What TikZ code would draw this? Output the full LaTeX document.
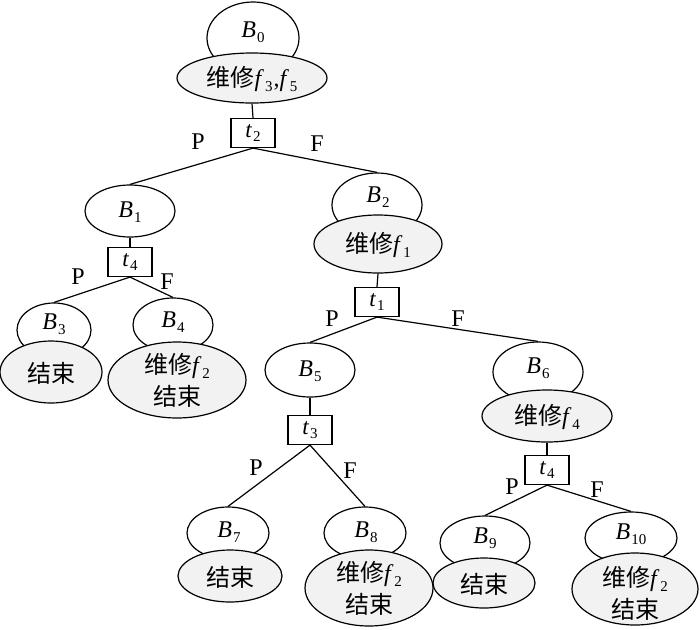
\documentclass[tikz,border=0pt]{standalone}
\usepackage{fontspec}
\setmainfont{Liberation Serif}
\newfontfamily\cjk{Noto Sans CJK SC}
\usetikzlibrary{shapes.geometric}
\newcommand\sbs[2]{\textit{#1}\kern1pt\raisebox{-0.45ex}{\fontsize{15}{15}\selectfont #2}}
\newcommand\wx{{\cjk 维修}}
\newcommand\js{{\cjk 结束}}
\begin{document}
\begin{tikzpicture}[x=1pt,y=-1pt,
 wn/.style={ellipse,draw,fill=white,line width=1.2pt,inner sep=0pt},
 gn/.style={ellipse,draw,fill=gray!10,line width=1.2pt,inner sep=0pt},
 tbox/.style={rectangle,draw,fill=white,line width=1.2pt,minimum width=44pt,minimum height=29pt,inner sep=0pt,font=\fontsize{23}{24}\selectfont},
 lab/.style={inner sep=0pt,font=\fontsize{24}{26}\selectfont},
 two/.style={inner sep=0pt,align=center,font=\fontsize{24}{32}\selectfont},
 edge/.style={line width=1.2pt}]
\useasboundingbox (0,0) rectangle (700,629);
% B0
\node[wn,minimum width=92pt,minimum height=72pt] (W0) at (253,38) {};
\node[gn,minimum width=150pt,minimum height=50pt] (G0) at (252,78) {};
\node[lab] (L0) at (253,32) {\sbs{B}{0}};
\node[lab] (M0) at (252,79) {\wx\sbs{f}{3}\kern1pt,\sbs{f}{5}};
\node[tbox] (T2) at (253,133) {\sbs{t}{2}};
% B1
\node[wn,minimum width=90pt,minimum height=52pt] (W1) at (130,211) {};
\node[lab] (L1) at (130,212) {\sbs{B}{1}};
\node[tbox] (T4a) at (130,262) {\sbs{t}{4}};
% B2
\node[wn,minimum width=90pt,minimum height=64pt] (W2) at (377,205) {};
\node[gn,minimum width=128pt,minimum height=58pt] (G2) at (378,244) {};
\node[lab] (L2) at (378,197) {\sbs{B}{2}};
\node[lab] (M2) at (378,245) {\wx\sbs{f}{1}};
\node[tbox] (T1) at (377,302) {\sbs{t}{1}};
% B3
\node[wn,minimum width=74pt,minimum height=54pt] (W3) at (54,330) {};
\node[gn,minimum width=102pt,minimum height=62pt] (G3) at (51,372) {};
\node[lab] (L3) at (54,324) {\sbs{B}{3}};
\node[lab] (M3) at (51,373) {\js};
% B4
\node[wn,minimum width=80pt,minimum height=54pt] (W4) at (173,325) {};
\node[gn,minimum width=138pt,minimum height=76pt] (G4) at (177,380) {};
\node[lab] (L4) at (173,322) {\sbs{B}{4}};
\node[two] (M4) at (177,380) {\wx\sbs{f}{2}\\\js};
% B5
\node[wn,minimum width=90pt,minimum height=54pt] (W5) at (310,370) {};
\node[lab] (L5) at (310,371) {\sbs{B}{5}};
\node[tbox] (T3) at (310,430) {\sbs{t}{3}};
% B6
\node[wn,minimum width=90pt,minimum height=60pt] (W6) at (538,372) {};
\node[gn,minimum width=130pt,minimum height=52pt] (G6) at (547,416) {};
\node[lab] (L6) at (538,368) {\sbs{B}{6}};
\node[lab] (M6) at (547,417) {\wx\sbs{f}{4}};
\node[tbox] (T4b) at (547,470) {\sbs{t}{4}};
% B7
\node[wn,minimum width=82pt,minimum height=52pt] (W7) at (228,533) {};
\node[gn,minimum width=104pt,minimum height=52pt] (G7) at (230,576) {};
\node[lab] (L7) at (229,532) {\sbs{B}{7}};
\node[lab] (M7) at (230,577) {\js};
% B8
\node[wn,minimum width=82pt,minimum height=52pt] (W8) at (365,533) {};
\node[gn,minimum width=128pt,minimum height=76pt] (G8) at (369,588) {};
\node[lab] (L8) at (366,532) {\sbs{B}{8}};
\node[two] (M8) at (369,588) {\wx\sbs{f}{2}\\\js};
% B9
\node[wn,minimum width=90pt,minimum height=54pt] (W9) at (485,543) {};
\node[gn,minimum width=102pt,minimum height=50pt] (G9) at (484,583) {};
\node[lab] (L9) at (485,538) {\sbs{B}{9}};
\node[lab] (M9) at (484,584) {\js};
% B10
\node[wn,minimum width=92pt,minimum height=52pt] (W10) at (631,538) {};
\node[gn,minimum width=126pt,minimum height=72pt] (G10) at (635,589) {};
\node[lab] (L10) at (631,534) {\sbs{B}{10}};
\node[two] (M10) at (635,593) {\wx\sbs{f}{2}\\\js};
% connectors
\draw[edge] (G0.south) -- (T2.north);
\draw[edge] (T2.south) -- (W1.north);
\draw[edge] (T2.south) -- (W2.north);
\draw[edge] (W1.south) -- (T4a.north);
\draw[edge] (T4a.south) -- (W3.north);
\draw[edge] (T4a.south) -- (W4.north);
\draw[edge] (G2.south) -- (T1.north);
\draw[edge] (T1.south) -- (W5.north);
\draw[edge] (T1.south) -- (W6.north);
\draw[edge] (W5.south) -- (T3.north);
\draw[edge] (T3.south) -- (W7.north);
\draw[edge] (T3.south) -- (W8.north);
\draw[edge] (G6.south) -- (T4b.north);
\draw[edge] (T4b.south) -- (W9.north);
\draw[edge] (T4b.south) -- (W10.north);
% P/F labels
\node[lab] (P0) at (198,142) {P};
\node[lab] (F0) at (317,144) {F};
\node[lab] (P1) at (78,277) {P};
\node[lab] (F1) at (167,282) {F};
\node[lab] (P2) at (332,319) {P};
\node[lab] (F2) at (458,319) {F};
\node[lab] (P3) at (256,468) {P};
\node[lab] (F3) at (350,471) {F};
\node[lab] (P4) at (512,487) {P};
\node[lab] (F4) at (597,490) {F};
\end{tikzpicture}
\end{document}
